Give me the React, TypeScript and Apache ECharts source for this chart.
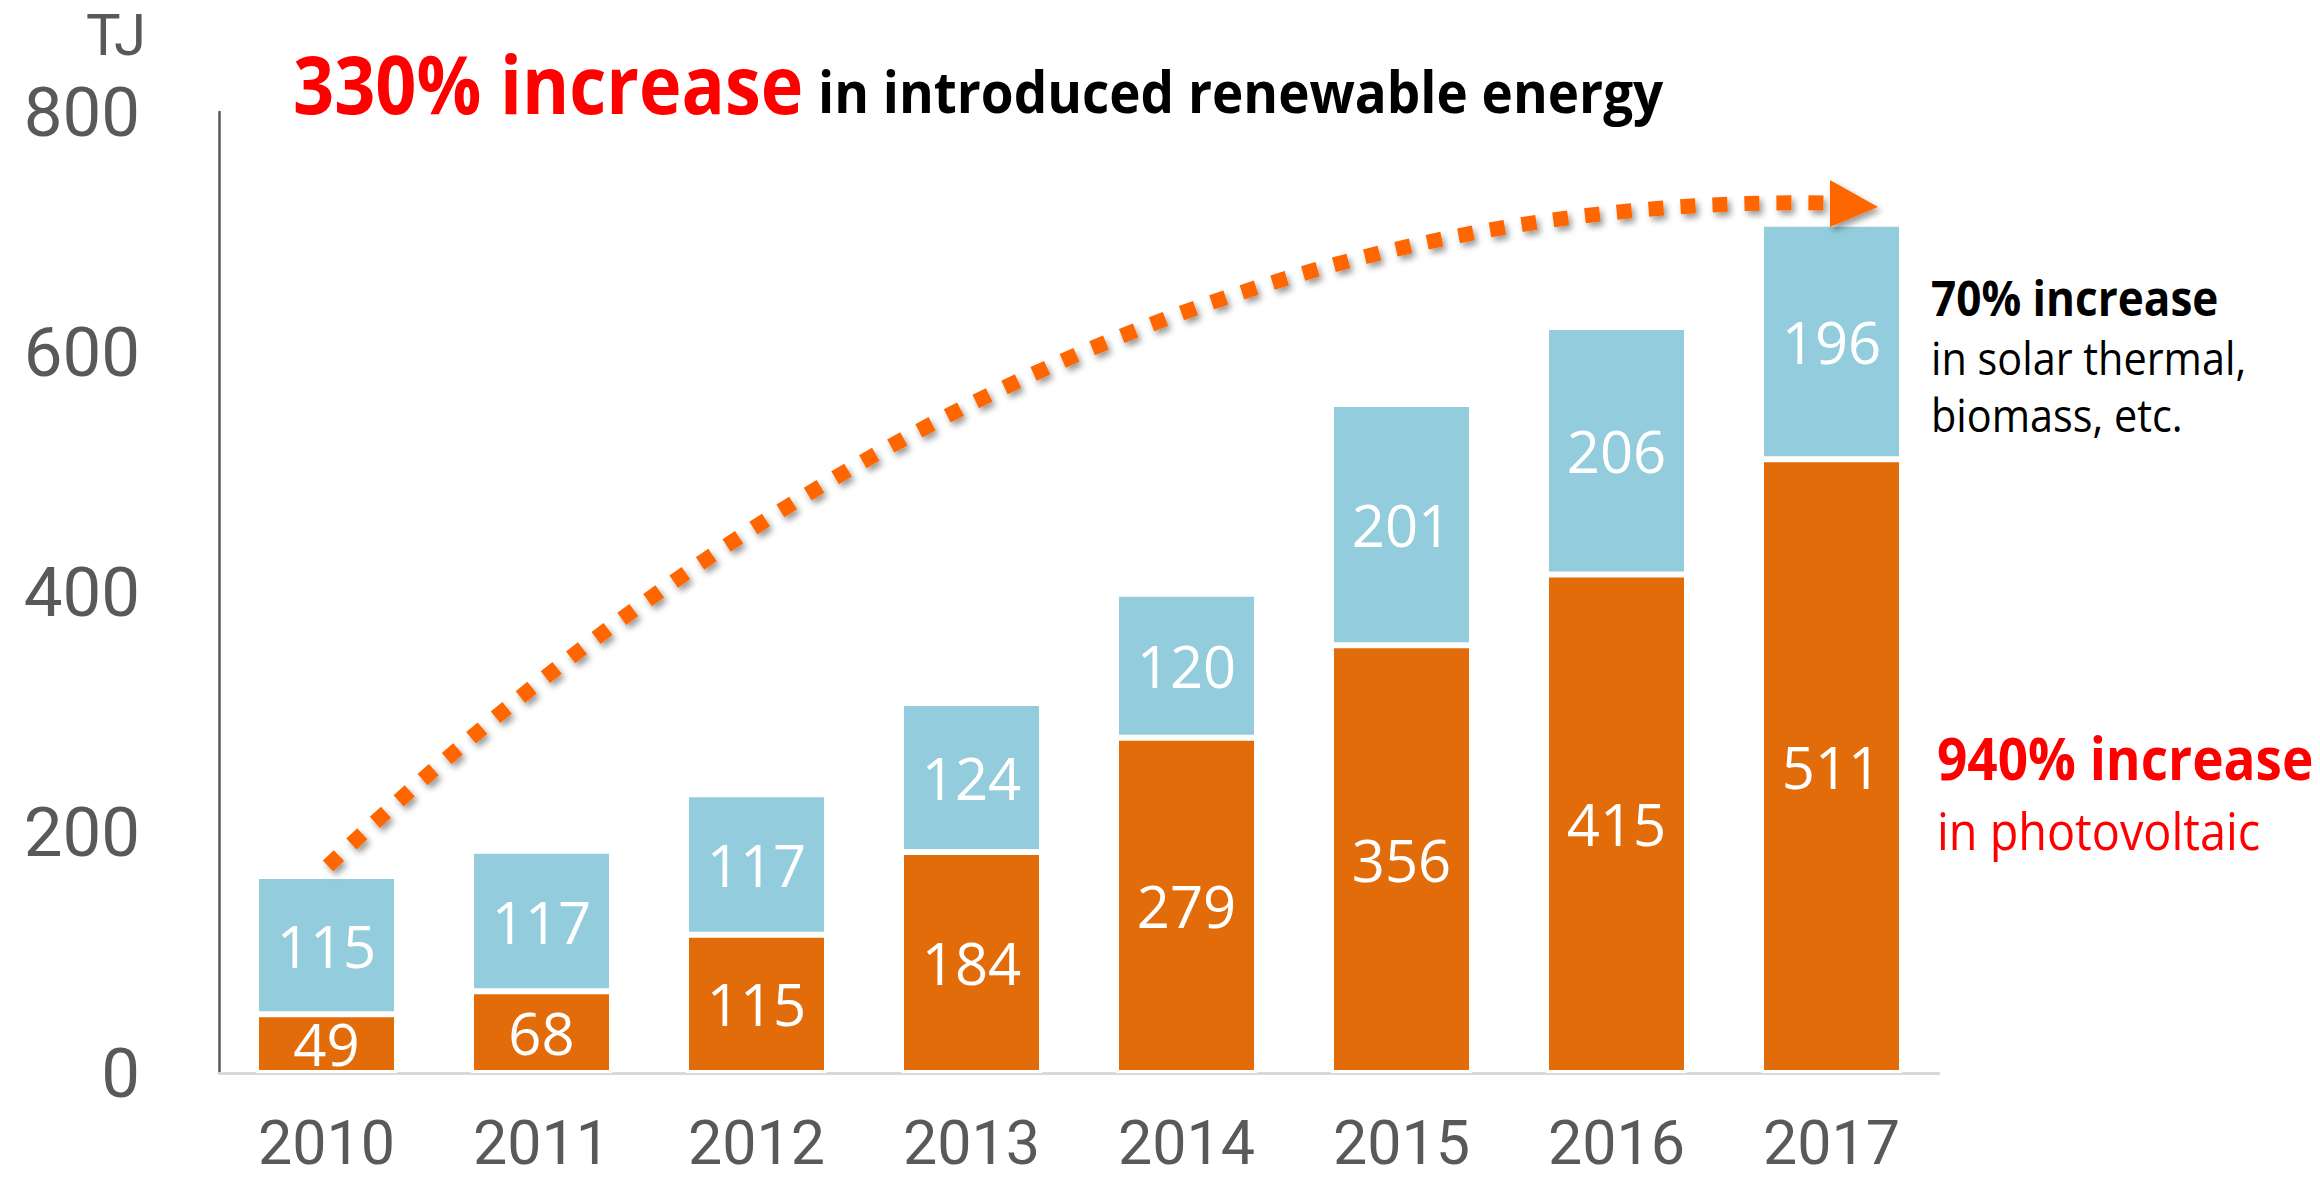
import React, { useEffect, useRef } from "react";
import * as echarts from "echarts";

const years = ["2010", "2011", "2012", "2013", "2014", "2015", "2016", "2017"];
const photovoltaic = [49, 68, 115, 184, 279, 356, 415, 511];
const solarThermalBiomass = [115, 117, 117, 124, 120, 201, 206, 196];
const yMin = 0;
const yMax = 800;
const yInterval = 200;

const FONT = "'Open Sans', 'Noto Sans', sans-serif";
const AXIS_FONT = "Roboto, 'Open Sans', sans-serif";
const ORANGE = "#E36C0A";
const BLUE = "#93CDDD";
const ARROW = "#FF6600";
const AXIS_GRAY = "#595959";

export default function App() {
  const ref = useRef<HTMLDivElement>(null);

  useEffect(() => {
    document.body.style.margin = "0";
    if (!ref.current) return;
    const chart = echarts.init(ref.current, undefined, { renderer: "svg" });

    const labelStyle = {
      show: true,
      position: "inside",
      color: "#ffffff",
      fontSize: 58,
      fontFamily: FONT,
    };

    const txt = (
      text: string,
      x: number,
      y: number,
      fontSize: number,
      color: string,
      bold: boolean,
      align: string = "left",
      scaleX: number = 0.9,
      family: string = FONT
    ) => ({
      type: "text",
      x,
      y,
      scaleX,
      z: 100,
      style: {
        text,
        fill: color,
        fontSize,
        fontFamily: family,
        fontWeight: bold ? "bold" : "normal",
        textAlign: align,
        textVerticalAlign: "middle",
      },
    });

    chart.setOption({
      animation: false,
      backgroundColor: "#ffffff",
      grid: { left: 219, top: 112, width: 1720, height: 961, containLabel: false },
      xAxis: {
        type: "category",
        data: years,
        axisLine: { show: true, lineStyle: { color: "#D9D9D9", width: 3 } },
        axisTick: { show: false },
        axisLabel: {
          fontSize: 61,
          lineHeight: 61,
          color: AXIS_GRAY,
          fontFamily: AXIS_FONT,
          margin: 39,
        },
        z: 1,
      },
      yAxis: {
        type: "value",
        min: yMin,
        max: yMax,
        interval: yInterval,
        axisLine: { show: true, lineStyle: { color: AXIS_GRAY, width: 2.5 } },
        axisTick: { show: false },
        splitLine: { show: false },
        axisLabel: { fontSize: 69, color: AXIS_GRAY, fontFamily: AXIS_FONT, margin: 79 },
      },
      series: [
        {
          name: "Photovoltaic",
          type: "bar",
          stack: "total",
          data: photovoltaic,
          barWidth: 141,
          itemStyle: { color: ORANGE, borderColor: "#ffffff", borderWidth: 3 },
          label: labelStyle,
        },
        {
          name: "Solar thermal, biomass, etc.",
          type: "bar",
          stack: "total",
          data: solarThermalBiomass,
          barWidth: 141,
          itemStyle: { color: BLUE, borderColor: "#ffffff", borderWidth: 3 },
          label: labelStyle,
        },
      ],
      graphic: [
        txt("TJ", 116, 35, 58, AXIS_GRAY, false, "center", 1, AXIS_FONT),
        txt("330% increase", 293, 83, 80, "#FF0000", true),
        txt("in introduced renewable energy", 818, 91, 57, "#000000", true, "left", 0.93),
        txt("70% increase", 1931, 297, 49, "#000000", true),
        txt("in solar thermal,", 1931, 357, 46, "#000000", false),
        txt("biomass, etc.", 1931, 414, 46, "#000000", false),
        txt("940% increase", 1937, 757, 59, "#FF0000", true),
        txt("in photovoltaic", 1937, 830, 52, "#FF0000", false),
        {
          type: "bezierCurve",
          z: 90,
          shape: { x1: 328, y1: 866, x2: 1830, y2: 203, cpx1: 1040, cpy1: 190 },
          style: {
            stroke: ARROW,
            fill: null,
            lineWidth: 15,
            lineDash: [15, 17],
            lineCap: "butt",
            shadowBlur: 6,
            shadowColor: "rgba(0,0,0,0.4)",
            shadowOffsetX: 3,
            shadowOffsetY: 4,
          },
        },
        {
          type: "polygon",
          z: 91,
          shape: { points: [[1830, 180], [1878, 207], [1830, 227]] },
          style: {
            fill: ARROW,
            shadowBlur: 6,
            shadowColor: "rgba(0,0,0,0.4)",
            shadowOffsetX: 3,
            shadowOffsetY: 4,
          },
        },
      ],
    });

    return () => chart.dispose();
  }, []);

  return (
    <div
      ref={ref}
      style={{ position: "absolute", left: 0, top: 0, width: 2320, height: 1180 }}
    />
  );
}
